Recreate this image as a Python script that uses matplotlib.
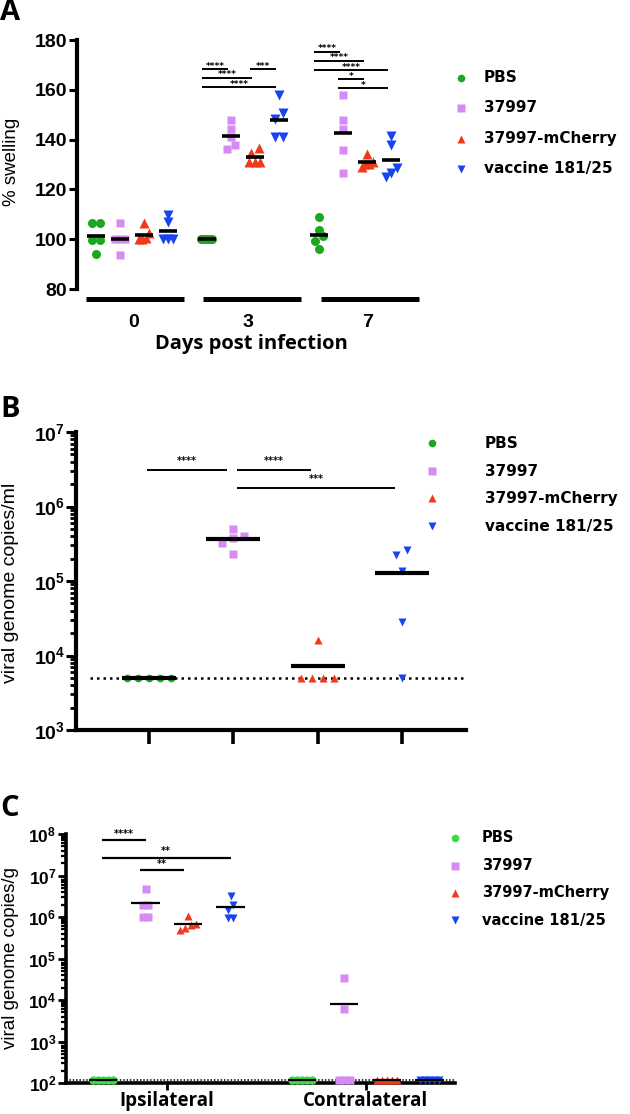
import numpy as np
import matplotlib.pyplot as plt
from matplotlib.lines import Line2D
from matplotlib.ticker import LogLocator, NullFormatter, FixedLocator, FuncFormatter

plt.rcParams['font.family'] = 'Liberation Sans'
plt.rcParams['font.weight'] = 'bold'
plt.rcParams['mathtext.fontset'] = 'custom'
plt.rcParams['mathtext.rm'] = 'Liberation Sans:bold'
plt.rcParams['mathtext.it'] = 'Liberation Sans:bold'
plt.rcParams['mathtext.bf'] = 'Liberation Sans:bold'

groups = ['PBS', '37997', '37997-mCherry', 'vaccine 181/25']

# panel A: % swelling per day (5 mice per group)
days = ['0', '3', '7']
swell_pbs = [[106.6, 106.6, 99.7, 99.7, 93.9],
             [100.0, 100.0, 100.0, 100.0, 100.0],
             [108.8, 103.7, 101.2, 99.3, 96.2]]
swell_37997 = [[106.4, 100.0, 100.0, 100.0, 93.7],
               [147.9, 144.1, 141.2, 137.8, 136.1],
               [157.9, 147.9, 144.4, 135.8, 126.5]]
swell_mcherry = [[106.4, 102.4, 100.5, 100.0, 100.0],
                 [136.5, 134.8, 131.1, 131.1, 131.1],
                 [134.2, 131.1, 129.1, 130.1, 130.1]]
swell_vaccine = [[109.7, 107.0, 100.0, 100.0, 100.0],
                 [157.9, 150.6, 148.2, 141.2, 141.2],
                 [141.4, 137.8, 128.7, 126.7, 124.9]]
sig_a = [(1, 0, 1, '****', 168.3), (1, 0, 2, '****', 164.9), (1, 0, 3, '****', 161.1),
         (1, 2, 3, '***', 168.3),
         (2, 0, 1, '****', 175.3), (2, 0, 2, '****', 171.6), (2, 0, 3, '****', 167.9),
         (2, 1, 2, '*', 164.2), (2, 1, 3, '*', 160.6)]

# panel B: viral genome copies/ml
lod_b = 5000
copies_ml = [[5000, 5000, 5000, 5000, 5000],
             [4.0e5, 3.8e5, 3.2e5, 5.0e5, 2.3e5],
             [1.6e4, 5000, 5000, 5000, 5000],
             [2.6e5, 2.2e5, 1.36e5, 2.8e4, 5000]]
sig_b = [(0, 1, '****', 3.1e6), (1, 2, '****', 3.1e6), (1, 3, '***', 1.78e6)]

# panel C: viral genome copies/g, ipsilateral / contralateral
sides = ['Ipsilateral', 'Contralateral']
lod_c = 115
copies_g_ipsi = [[115, 115, 115, 115, 115],
                 [4.8e6, 2.0e6, 2.0e6, 1.0e6, 1.0e6],
                 [1.05e6, 6.9e5, 6.5e5, 4.9e5, 5.5e5],
                 [3.2e6, 1.5e6, 2.0e6, 9.6e5, 9.6e5]]
copies_g_contra = [[115, 115, 115, 115, 115],
                   [3.4e4, 6.2e3, 115, 115, 115],
                   [115, 115, 115, 115, 115],
                   [115, 115, 115, 115, 115]]
sig_c = [(0, 1, '****', 7.2e7), (0, 3, '**', 2.7e7), (1, 2, '**', 1.35e7)]

colors = ['#1ca81e', '#d68af2', '#f0381a', '#1844f0']
colors_c = ['#3ddc3d', '#d68af2', '#f0381a', '#1844f0']
markers = ['o', 's', '^', 'v']

W, H = 630, 1114


def spread(vals, px_per_unit, step, max_width, tol=6.0):
    # GraphPad-like horizontal spreading of overlapping points
    vals = np.asarray(vals, float)
    order = np.argsort(vals)
    offs = np.zeros(len(vals))
    clusters = [[order[0]]]
    for i in order[1:]:
        if (vals[i] - vals[clusters[-1][-1]]) * px_per_unit < tol:
            clusters[-1].append(i)
        else:
            clusters.append([i])
    for c in clusters:
        n = len(c)
        if n == 1:
            continue
        s = min(step, max_width / (n - 1))
        for k, i in enumerate(c):
            offs[i] = (k - (n - 1) / 2) * s
    return offs


def legend(fig, x_mark, x_text, rows, cols, ms, fs):
    for y, lab, c, m in zip(rows, groups, cols, markers):
        fig.add_artist(Line2D([x_mark / W], [1 - y / H], marker=m, color=c, ls='none',
                              ms=ms, mec='none', transform=fig.transFigure))
        fig.text(x_text / W, 1 - y / H, lab, va='center', ha='left', fontsize=fs,
                 family='DejaVu Sans', weight='bold')


fig = plt.figure(figsize=(W / 100, H / 100), dpi=100)

# ---------------- panel A ----------------
axA = fig.add_axes([77 / W, 1 - 304 / H, 342 / W, 264 / H])
starts = [0, 4.62, 9.3]
all_a = [swell_pbs, swell_37997, swell_mcherry, swell_vaccine]
ms_a = [6.5, 6, 7, 7]
for d in range(3):
    for g in range(4):
        vals = all_a[g][d]
        x = starts[d] + g
        offs = spread(vals, 2.49, 0.35, 0.45)
        axA.plot(x + offs, vals, ls='none', marker=markers[g], color=colors[g],
                 ms=ms_a[g], mec='none', clip_on=False, zorder=3)
        axA.hlines(np.mean(vals), x - 0.38, x + 0.38, color='black', lw=2.6, zorder=4)
for d, i, j, txt, y in sig_a:
    x0, x1 = starts[d] + i - 0.2, starts[d] + j - 0.12
    axA.hlines(y, x0, x1, color='black', lw=1.4)
    axA.text((x0 + x1) / 2, y - 0.6, txt, ha='center', va='bottom', fontsize=6.5,
             family='DejaVu Sans')
bar_centers = [1.62, 6.5, 11.42]
for bc in bar_centers:
    axA.hlines(76, bc - 2.04, bc + 2.04, color='black', lw=3.6, clip_on=False)
axA.set_xlim(-0.79, 13.46)
axA.set_ylim(74, 180)
axA.spines[['top', 'right', 'bottom']].set_visible(False)
axA.spines['left'].set_bounds(80, 180)
axA.spines['left'].set_linewidth(3)
axA.set_yticks(np.arange(80, 181, 20))
axA.tick_params(axis='y', length=6, width=2.2, labelsize=14, pad=1)
axA.set_xticks([1.58, 6.33, 11.33])
axA.set_xticklabels(days)
axA.tick_params(axis='x', length=0, labelsize=14, pad=7)
axA.set_ylabel('% swelling', fontsize=13.5, va='center')
axA.yaxis.set_label_coords((12 - 77) / 342, 0.538)
axA.set_xlabel('Days post infection', fontsize=14.5, family='Open Sans', weight='bold',
               va='center')
axA.xaxis.set_label_coords(0.509, -0.152)
legend(fig, 461, 484, [78, 108, 139, 169], colors, 5.5, 11)

# ---------------- panel B ----------------
axB = fig.add_axes([76 / W, 1 - 730 / H, 390 / W, 298 / H])
axB.set_yscale('log')
axB.hlines(lod_b, -0.7, 3.76, color='black', lw=1.8, linestyles=(0, (1, 1.6)), zorder=1)
ms_b = [5.5, 5.5, 6, 6]
for g in range(4):
    vals = np.array(copies_ml[g], float)
    offs = spread(np.log10(vals), 74.5, 0.13, 0.52)
    axB.plot(g + offs, vals, ls='none', marker=markers[g], color=colors[g],
             ms=ms_b[g], mec='none', zorder=3)
    axB.hlines(np.mean(vals), g - 0.32, g + 0.32, color='black', lw=3, zorder=4)
for i, j, txt, y in sig_b:
    x0, x1 = i + (0.04 if i > 0 else -0.02), j - 0.08
    axB.hlines(y, x0, x1, color='black', lw=1.4)
    axB.text((x0 + x1) / 2, y * 1.12, txt, ha='center', va='bottom', fontsize=7,
             family='DejaVu Sans')
axB.set_xlim(-0.866, 3.76)
axB.set_ylim(1e3, 1e7)
axB.spines[['top', 'right']].set_visible(False)
axB.spines['left'].set_linewidth(3)
axB.spines['bottom'].set_linewidth(3)
axB.yaxis.set_major_locator(FixedLocator([1e3, 1e4, 1e5, 1e6, 1e7]))
axB.yaxis.set_major_formatter(FuncFormatter(lambda v, p: r'$10^{%d}$' % round(np.log10(v))))
axB.yaxis.set_minor_locator(LogLocator(base=10, subs=np.arange(2, 10)))
axB.yaxis.set_minor_formatter(NullFormatter())
axB.tick_params(axis='y', which='major', length=7, width=2.2, labelsize=14, pad=1)
axB.tick_params(axis='y', which='minor', length=4, width=2)
axB.set_xticks(range(4))
axB.set_xticklabels([])
axB.tick_params(axis='x', length=10, width=2.6)
axB.set_ylabel('viral genome copies/ml', fontsize=14, va='center')
axB.yaxis.set_label_coords((11 - 76) / 390, 0.495)
legend(fig, 432, 485, [443, 471, 498, 526], colors, 5.5, 11)

# ---------------- panel C ----------------
axC = fig.add_axes([66 / W, 1 - 1083 / H, 389 / W, 249 / H])
axC.set_yscale('log')
axC.axhline(lod_c * 1.05, color='black', lw=1.1, ls=(0, (1, 1.2)), zorder=1)
c_starts = [0, 4.68]
ms_c = [6, 6, 6, 6]
for s, data in zip(c_starts, [copies_g_ipsi, copies_g_contra]):
    for g in range(4):
        vals = np.array(data[g], float)
        x = s + g
        offs = spread(np.log10(vals), 41.3, 0.13, 0.45)
        axC.plot(x + offs, vals, ls='none', marker=markers[g], color=colors_c[g],
                 ms=ms_c[g], mec='none', clip_on=False, zorder=3)
        axC.hlines(np.mean(vals), x - 0.33, x + 0.33, color='black', lw=1.6, zorder=4)
for i, j, txt, y in sig_c:
    x0, x1 = i - 0.03 - (0.1 if i > 0 else 0), j - (0.1 if i > 0 else 0)
    axC.hlines(y, x0, x1, color='black', lw=1.6)
    axC.text((x0 + x1) / 2, y * 1.08, txt, ha='center', va='bottom', fontsize=7,
             family='DejaVu Sans')
axC.set_xlim(-0.87, 8.28)
axC.set_ylim(1e2, 1e8)
axC.spines[['top', 'right']].set_visible(False)
axC.spines['left'].set_linewidth(2.6)
axC.spines['bottom'].set_linewidth(2.6)
axC.yaxis.set_major_locator(FixedLocator([10.0 ** k for k in range(2, 9)]))
axC.yaxis.set_major_formatter(FuncFormatter(lambda v, p: r'$10^{%d}$' % round(np.log10(v))))
axC.yaxis.set_minor_locator(LogLocator(base=10, subs=np.arange(2, 10)))
axC.yaxis.set_minor_formatter(NullFormatter())
axC.tick_params(axis='y', which='major', length=6, width=2, labelsize=12.5, pad=1)
axC.tick_params(axis='y', which='minor', length=3.5, width=1.6)
axC.set_xticks([1.5, 6.18])
axC.set_xticklabels(sides, fontsize=13.5, family='Open Sans', weight='bold')
axC.tick_params(axis='x', length=5, width=2, pad=1)
axC.set_ylabel('viral genome copies/g', fontsize=13.5, va='center')
axC.yaxis.set_label_coords((11 - 66) / 389, 0.504)
legend(fig, 455, 482, [838, 866, 893, 920], colors_c, 5.5, 10.5)

# panel letters
for lab, y in zip(['A', 'B', 'C'], [13, 410, 808]):
    fig.text(0.0, 1 - y / H, lab, fontsize=21, family='Open Sans', weight='bold',
             va='center', ha='left')

fig.savefig('out.png', dpi=100)
